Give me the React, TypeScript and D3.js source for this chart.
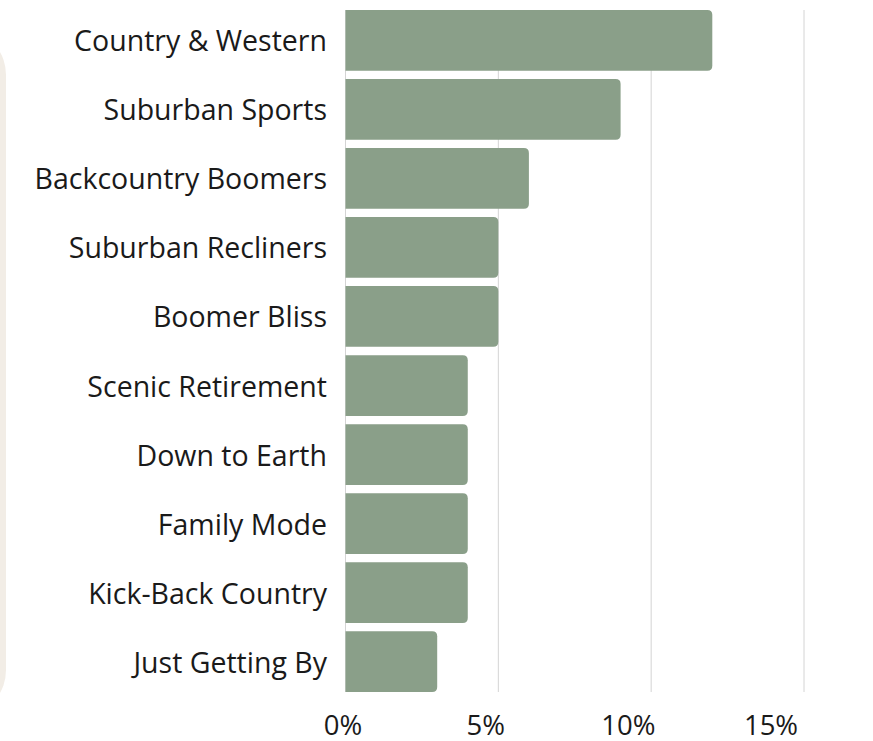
import React from "react";
import * as d3 from "d3";

const categories = [
  "Country & Western",
  "Suburban Sports",
  "Backcountry Boomers",
  "Suburban Recliners",
  "Boomer Bliss",
  "Scenic Retirement",
  "Down to Earth",
  "Family Mode",
  "Kick-Back Country",
  "Just Getting By",
];
const values = [12, 9, 6, 5, 5, 4, 4, 4, 4, 3];
const ticks = [0, 5, 10, 15];

const W = 873;
const H = 741;

function barPath(x0: number, y: number, w: number, h: number, r: number) {
  const rr = Math.min(r, w / 2, h / 2);
  return `M${x0},${y}H${x0 + w - rr}Q${x0 + w},${y} ${x0 + w},${y + rr}V${y + h - rr}Q${x0 + w},${y + h} ${x0 + w - rr},${y + h}H${x0}Z`;
}

export default function App() {
  const x = d3.scaleLinear().domain([0, 15]).range([345.5, 804]);
  const xLabel = d3.scaleLinear().domain([0, 15]).range([343, 771]);
  const y = d3
    .scaleBand<string>()
    .domain(categories)
    .range([10, 692])
    .paddingInner(0.12)
    .paddingOuter(0);
  const font = "'Open Sans', 'Noto Sans', sans-serif";
  return (
    <svg
      width={W}
      height={H}
      style={{ position: "absolute", left: 0, top: 0, display: "block" }}
    >
      <rect x={-60} y={35} width={66} height={675} rx={40} fill="#f2ede6" />
      {ticks.map((t) => (
        <line
          key={t}
          x1={x(t)}
          x2={x(t)}
          y1={10}
          y2={692}
          stroke="#d4d4d4"
          strokeWidth={1}
        />
      ))}
      {categories.map((c, i) => (
        <path
          key={c}
          d={barPath(x(0), y(c)!, x(values[i]) - x(0), y.bandwidth(), 5)}
          fill="#8a9f89"
        />
      ))}
      {categories.map((c) => (
        <text
          key={c}
          x={327}
          y={y(c)! + y.bandwidth() / 2}
          textAnchor="end"
          dominantBaseline="central"
          fontFamily={font}
          fontSize={28.5}
          fill="#1a1a1a"
        >
          {c}
        </text>
      ))}
      {ticks.map((t) => (
        <text
          key={t}
          x={xLabel(t)}
          y={724}
          textAnchor="middle"
          dominantBaseline="central"
          fontFamily={font}
          fontSize={27.5}
          fill="#1a1a1a"
        >
          {t + "%"}
        </text>
      ))}
    </svg>
  );
}
